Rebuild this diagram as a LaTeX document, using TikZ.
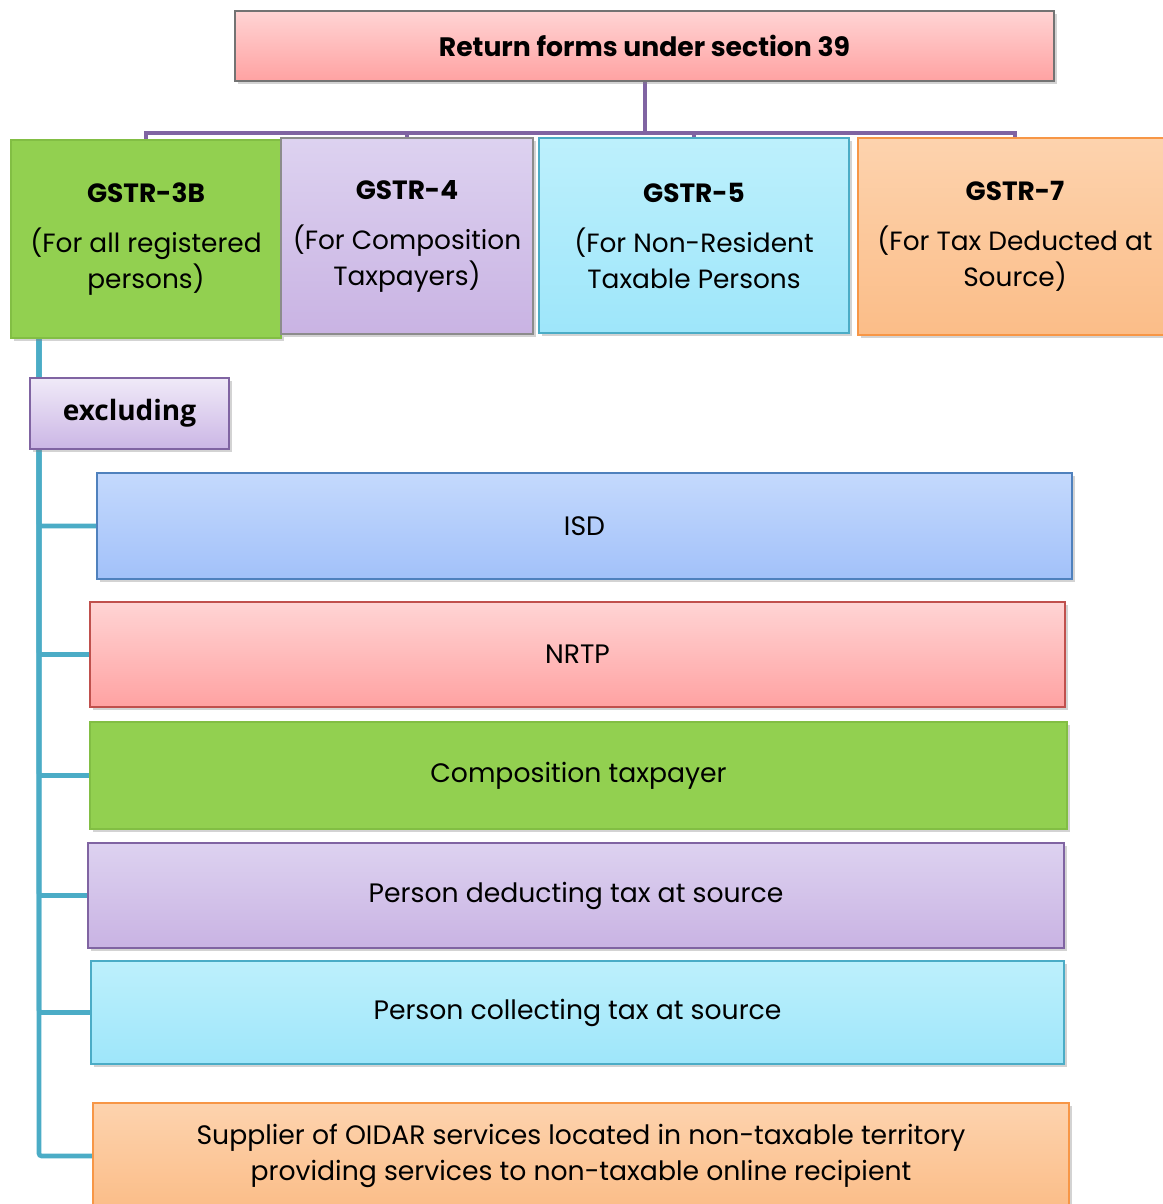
\documentclass[tikz,border=0pt]{standalone}
\usepackage{fontspec}
\setmainfont{Poppins}
\newfontfamily\exfont{Open Sans}
\usetikzlibrary{shadows,backgrounds}
\definecolor{purpc}{HTML}{8064A2}
\definecolor{tealc}{HTML}{4BACC6}
\definecolor{greenc}{HTML}{92D050}
\definecolor{greenb}{HTML}{82BE44}
\definecolor{pinkt}{HTML}{FFD4D4}
\definecolor{pinkb}{HTML}{FFA2A2}
\definecolor{pinkbd}{HTML}{C0504D}
\definecolor{lavt}{HTML}{DDD2F0}
\definecolor{lavb}{HTML}{C9B3E3}
\definecolor{cyant}{HTML}{BDF0FC}
\definecolor{cyanb}{HTML}{9EE6FA}
\definecolor{peacht}{HTML}{FDD3AE}
\definecolor{peachb}{HTML}{FBBD88}
\definecolor{peachbd}{HTML}{F79646}
\definecolor{bluet}{HTML}{C4D9FD}
\definecolor{blueb}{HTML}{A2C1F9}
\definecolor{bluebd}{HTML}{4F81BD}
\definecolor{exct}{HTML}{F0EAF8}
\definecolor{excb}{HTML}{CBB6E5}
\tikzset{
  bx/.style={draw, line width=0.9pt, inner sep=0pt, align=center,
    drop shadow={opacity=0.35, shadow xshift=2pt, shadow yshift=-2pt}},
  pinkf/.style={top color=pinkt, bottom color=pinkb},
  lavf/.style={top color=lavt, bottom color=lavb},
  cyanf/.style={top color=cyant, bottom color=cyanb},
  peachf/.style={top color=peacht, bottom color=peachb},
  bluef/.style={top color=bluet, bottom color=blueb},
  hdr/.style={bx, font=\fontsize{19.8}{27}\selectfont},
  sub/.style={bx, font=\fontsize{20}{27}\selectfont},
  purpline/.style={draw=purpc, line width=3pt},
  tealline/.style={draw=tealc, line width=3.5pt, rounded corners=2pt},
}
\begin{document}
\begin{tikzpicture}[x=0.75pt,y=-0.75pt]
\useasboundingbox (0,0) rectangle (1163,1204);
\clip (0,0) rectangle (1163,1204);
% title
\node[bx, pinkf, draw=black!55, minimum width={819*0.75pt}, minimum height={70*0.75pt},
  font=\fontsize{20}{24}\selectfont\bfseries] (title) at (644.5,46) {Return forms under section 39};
% headers
\node[hdr, fill=greenc, draw=greenb, minimum width={270*0.75pt}, minimum height={198*0.75pt}]
  (g3b) at (146,239) {\textbf{GSTR-3B}\\[10.5pt](For all registered\\persons)};
\node[hdr, lavf, draw=black!45, minimum width={252*0.75pt}, minimum height={196*0.75pt}]
  (g4) at (407,236) {\textbf{GSTR-4}\\[10.5pt](For Composition\\Taxpayers)};
\node[hdr, cyanf, draw=tealc, minimum width={310*0.75pt}, minimum height={195*0.75pt}]
  (g5) at (694,235.5) {\textbf{GSTR-5}\\[10.5pt](For Non-Resident\\Taxable Persons};
\node[hdr, peachf, draw=peachbd, minimum width={314*0.75pt}, minimum height={197*0.75pt}]
  (g7) at (1015,236.5) {\textbf{GSTR-7}\\[10.5pt](For Tax Deducted at\\Source)};
% excluding
\node[bx, top color=exct, bottom color=excb, draw=purpc, minimum width={199*0.75pt},
  minimum height={71*0.75pt}, font=\exfont\fontsize{21}{24}\selectfont\bfseries]
  (excl) at (129.5,413.5) {excluding};
% sub boxes
\node[sub, bluef, draw=bluebd, minimum width={975*0.75pt}, minimum height={106*0.75pt}]
  (isd) at (584.5,526) {ISD};
\node[sub, pinkf, draw=pinkbd, minimum width={975*0.75pt}, minimum height={105*0.75pt}]
  (nrtp) at (577.5,654.5) {NRTP};
\node[sub, fill=greenc, draw=greenb, minimum width={977*0.75pt}, minimum height={107*0.75pt}]
  (comp) at (578.5,775.5) {Composition taxpayer};
\node[sub, lavf, draw=purpc, minimum width={976*0.75pt}, minimum height={105*0.75pt}]
  (ded) at (576,895.5) {Person deducting tax at source};
\node[sub, cyanf, draw=tealc, minimum width={973*0.75pt}, minimum height={103*0.75pt}]
  (col) at (577.5,1012.5) {Person collecting tax at source};
\node[sub, peachf, draw=peachbd, minimum width={976*0.75pt}, minimum height={106*0.75pt}]
  (oidar) at (581,1156) {Supplier of OIDAR services located in non-taxable territory\\providing services to non-taxable online recipient};
% connectors
\begin{scope}[on background layer]
  \coordinate (bar) at (644.5,133);
  \foreach \b in {g3b,g4,g5,g7}{
    \draw[purpline] (title.south) |- (bar) -| (\b.north);
  }
  \coordinate (trunk) at (39,338);
  \foreach \b in {excl,isd,nrtp,comp,ded,col,oidar}{
    \draw[tealline] (trunk) |- (\b.west);
  }
\end{scope}
\end{tikzpicture}
\end{document}
